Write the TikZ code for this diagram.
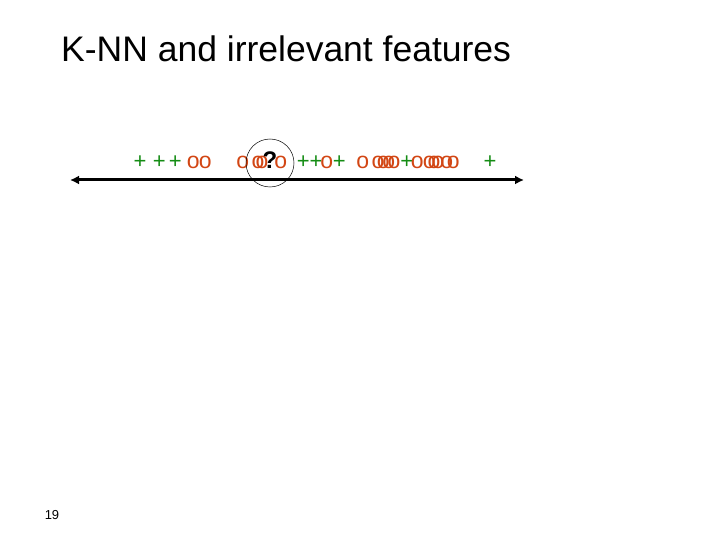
\documentclass[tikz,border=0pt]{standalone}
\usepackage{fontspec}
\usetikzlibrary{arrows.meta}
\setmainfont{Liberation Sans}
\definecolor{pgreen}{RGB}{20,140,20}
\definecolor{porange}{RGB}{210,70,20}
\begin{document}
\begin{tikzpicture}[x=1pt,y=-1pt,
  pl/.style={text=pgreen,font=\fontsize{22}{22}\selectfont,inner sep=0pt},
  oo/.style={text=porange,font=\fontsize{23}{23}\selectfont,inner sep=0pt}]
\useasboundingbox (0,0) rectangle (720,540);
\node[anchor=west,font=\fontsize{35.5}{35.5}\selectfont,inner sep=0pt] (title) at (61,49) {K-NN and irrelevant features};
\node[font=\fontsize{13}{13}\selectfont,inner sep=0pt] (pg) at (52,515) {19};
\coordinate (L) at (70,180);
\coordinate (R) at (524,180);
\draw[line width=3pt,{Latex[length=9pt,width=9pt]}-{Latex[length=9pt,width=9pt]}] (L) -- (R);
\foreach \x [count=\i] in {140,159.3,175.3,303.3,316,339.3,406.7,490}
  \node[pl] (p\i) at (\x,162) {+};
\foreach \x [count=\i] in {193.3,205.3,242.7,258,262,280.7,326.7,362.7,378,383.3,388.7,394,417.3,429.3,434,438,446.7,453.3}
  \node[oo] (o\i) at (\x,162) {o};
\node[font=\fontsize{24}{24}\selectfont\bfseries,inner sep=0pt] (q) at (270,160) {?};
\draw[line width=0.5pt] (270,163) circle (24);
\end{tikzpicture}
\end{document}
